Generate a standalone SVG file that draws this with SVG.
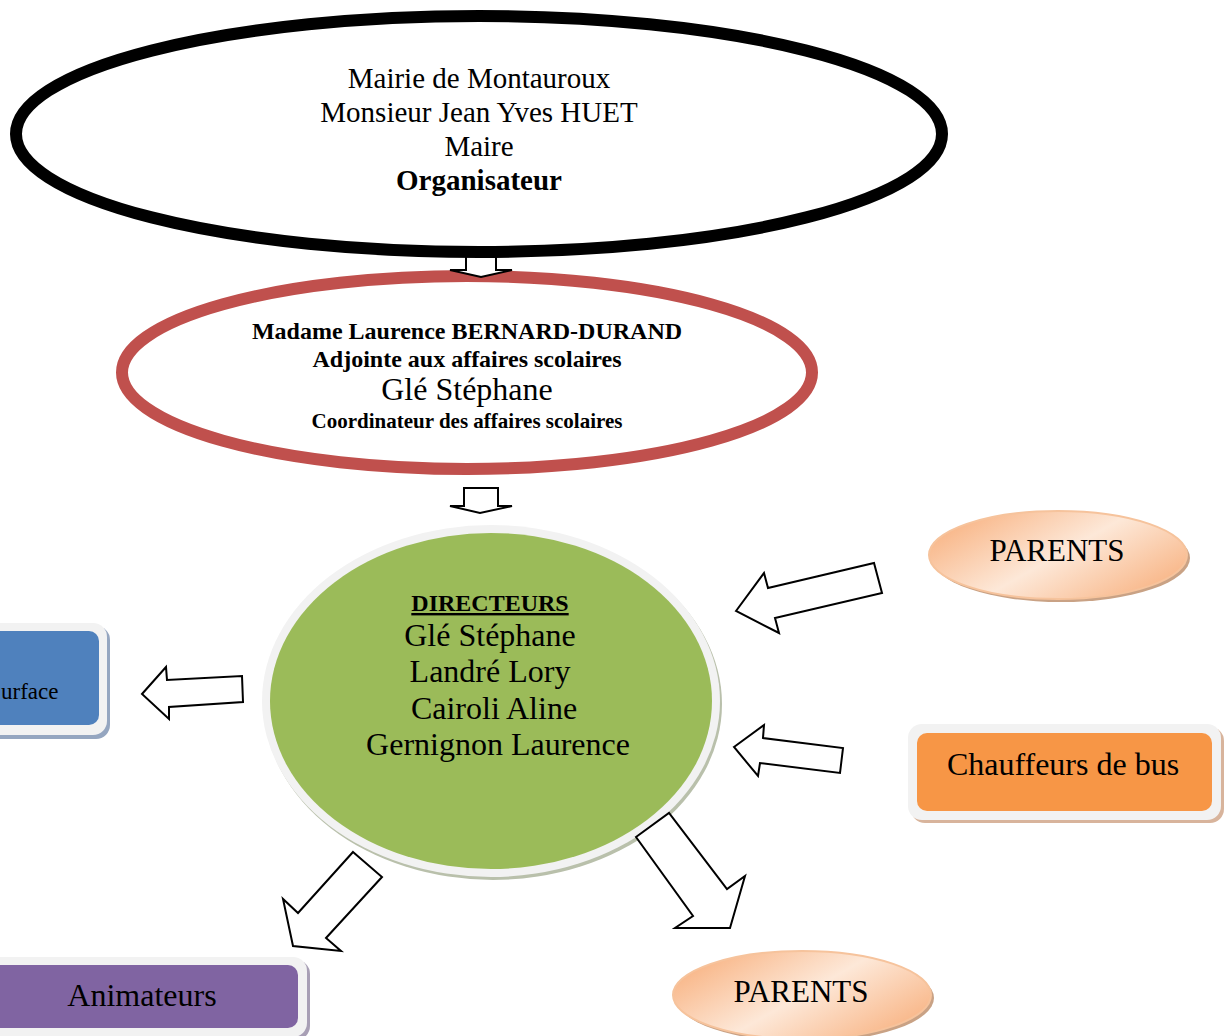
<svg xmlns="http://www.w3.org/2000/svg" width="1226" height="1036" viewBox="0 0 1226 1036">
<defs>
<linearGradient id="peach" x1="0" y1="0.2" x2="1" y2="0.8">
<stop offset="0" stop-color="#f8b281"/>
<stop offset="0.5" stop-color="#fde8d8"/>
<stop offset="1" stop-color="#f8b281"/>
</linearGradient>
</defs>
<style>
text{font-family:'Liberation Serif','Times New Roman',serif;fill:#000;text-anchor:middle}
.b{font-weight:bold}
.arrow{fill:#fff;stroke:#000;stroke-width:2;stroke-linejoin:miter}
.ring{fill:#f2f2f2}
.t32{font-size:32px}
</style>
<rect width="1226" height="1036" fill="#fff"/>

<g id="node-adjointe">
<ellipse cx="467" cy="372.5" rx="345" ry="96.5" fill="#fff" stroke="#c0504d" stroke-width="12"/>
<text class="b" x="467" y="339" font-size="24">Madame Laurence BERNARD-DURAND</text>
<text class="b" x="467" y="367" font-size="24">Adjointe aux affaires scolaires</text>
<text x="467" y="400" font-size="32">Glé Stéphane</text>
<text class="b" x="467" y="428" font-size="21">Coordinateur des affaires scolaires</text>
</g>

<g id="connectors-top">
<polygon class="arrow" points="466,248 496,248 496,270 512,270 481,277 450,270 466,270"/>
</g>

<g id="node-mairie">
<ellipse cx="479" cy="134" rx="463" ry="118" fill="#fff" stroke="#000" stroke-width="12"/>
<text x="479" y="88" font-size="29">Mairie de Montauroux</text>
<text x="479" y="122" font-size="29">Monsieur Jean Yves HUET</text>
<text x="479" y="156" font-size="29">Maire</text>
<text class="b" x="479" y="190" font-size="29">Organisateur</text>
</g>

<g id="node-directeurs">
<ellipse cx="493" cy="704" rx="229" ry="176" fill="#b9c0ab"/>
<ellipse class="ring" cx="491" cy="701" rx="229" ry="176"/>
<ellipse cx="491" cy="701" rx="221" ry="168" fill="#9bbb59"/>
<text class="b" x="490" y="611" font-size="24" text-decoration="underline">DIRECTEURS</text>
<text class="t32" x="490" y="646">Glé Stéphane</text>
<text class="t32" x="490" y="682">Landré Lory</text>
<text class="t32" x="494" y="719">Cairoli Aline</text>
<text class="t32" x="498" y="755">Gernignon Laurence</text>
</g>

<g id="node-surface">
<rect x="-20" y="626" width="130" height="113" rx="14" fill="#95a6c0"/>
<rect class="ring" x="-20" y="623" width="127" height="112" rx="14"/>
<rect x="-20" y="631" width="119" height="94" rx="10" fill="#4f81bd"/>
<text x="1" y="699" font-size="23" style="text-anchor:start">urface</text>
</g>

<g id="node-parents-top">
<ellipse cx="1061" cy="558" rx="129" ry="44" fill="#c9a285"/>
<ellipse cx="1058" cy="555" rx="129" ry="44" fill="url(#peach)" stroke="#f6c39c" stroke-width="2"/>
<text x="1057" y="561" font-size="31">PARENTS</text>
</g>

<g id="node-chauffeurs">
<rect x="911" y="727" width="313" height="96" rx="14" fill="#d8b49c"/>
<rect class="ring" x="908" y="724" width="313" height="96" rx="14"/>
<rect x="917" y="733" width="295" height="78" rx="10" fill="#f79646"/>
<text class="t32" x="1063" y="775">Chauffeurs de bus</text>
</g>

<g id="node-animateurs">
<rect x="-20" y="960" width="330" height="80" rx="14" fill="#a89fb5"/>
<rect class="ring" x="-20" y="957" width="327" height="80" rx="14"/>
<rect x="-20" y="965" width="318" height="63" rx="10" fill="#8064a2"/>
<text class="t32" x="142" y="1006">Animateurs</text>
</g>

<g id="node-parents-bottom">
<ellipse cx="805" cy="998" rx="129" ry="44" fill="#c9a285"/>
<ellipse cx="802" cy="995" rx="129" ry="44" fill="url(#peach)" stroke="#f6c39c" stroke-width="2"/>
<text x="801" y="1002" font-size="31">PARENTS</text>
</g>

<g id="connectors">
<polygon class="arrow" points="464,488 498,488 498,506 512,506 480,513 450,506 464,506"/>
<polygon class="arrow" points="142,694 166,667 167,680 242,676 243,702 169,707 169,719"/>
<polygon class="arrow" points="736,611 764,573 768,588 874,563 882,593 775,618 779,633"/>
<polygon class="arrow" points="734,747 764,725 763,738 843,748 840,773 760,763 758,776"/>
<polygon class="arrow" points="353,852 382,877 326,938 341,951 293,946 283,899 298,913"/>
<polygon class="arrow" points="636,837 669,813 727,889 745,876 730,928 675,928 693,916"/>
</g>
</svg>
